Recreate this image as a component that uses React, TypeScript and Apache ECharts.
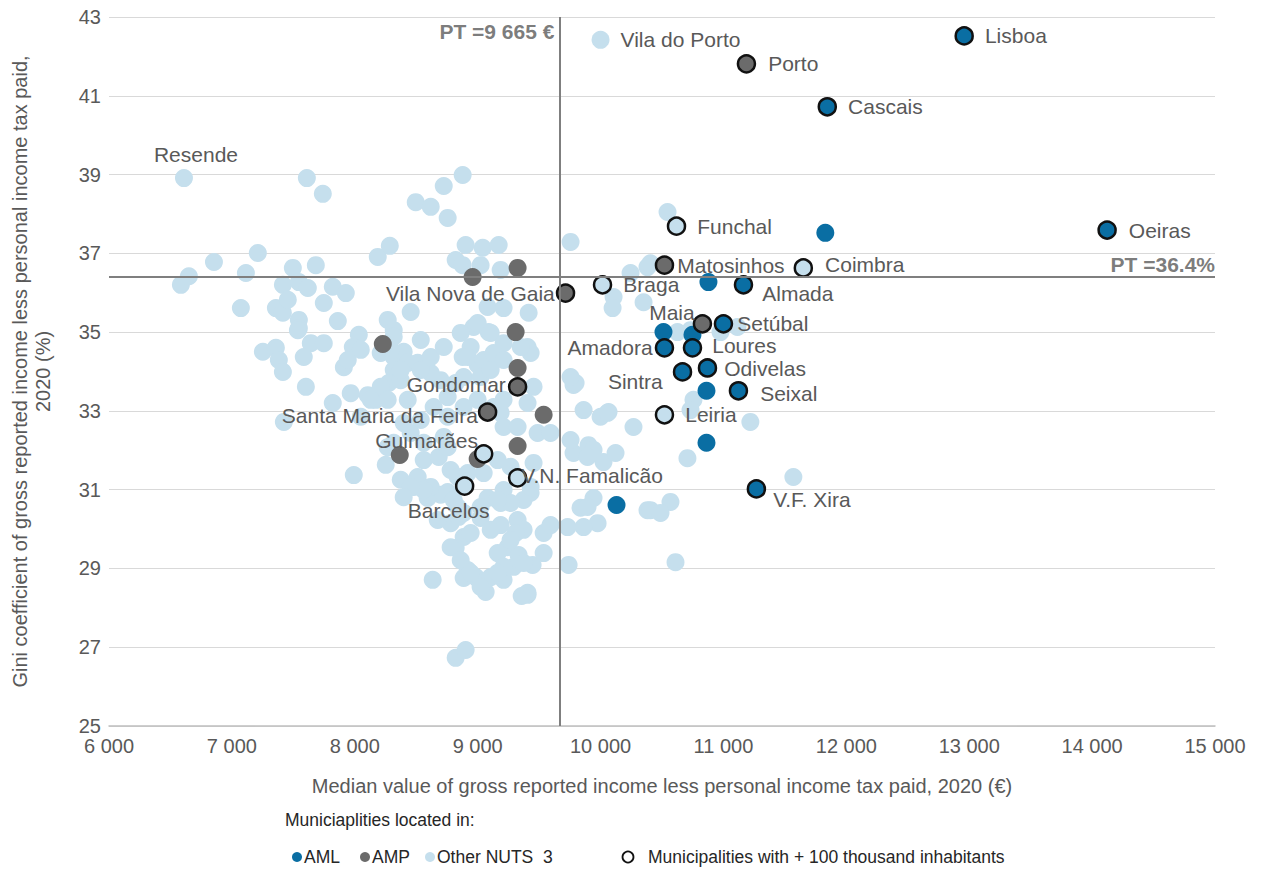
import { useEffect, useRef } from "react";
import * as echarts from "echarts";

// ---------- DATA ----------
const X_TICKS_MIN = 6000;
const X_TICKS_MAX = 15000;
const Y_MIN = 25;
const Y_MAX = 43;
const PT_MEDIAN = 9665;
const PT_GINI = 36.4;

// AML municipalities with + 100 thousand inhabitants
const AML_BIG: [string, number, number][] = [
  ["Lisboa", 12959, 42.52],
  ["Cascais", 11845, 40.72],
  ["Oeiras", 14122, 37.59],
  ["Almada", 11163, 36.2],
  ["Setúbal", 11000, 35.21],
  ["Amadora", 10520, 34.6],
  ["Loures", 10748, 34.6],
  ["Sintra", 10667, 33.99],
  ["Odivelas", 10870, 34.09],
  ["Seixal", 11122, 33.51],
  ["V.F. Xira", 11268, 31.02],
];
const AML_OTHER: [number, number][] = [
  [11829, 37.52], [10878, 36.27], [10512, 35.0], [10748, 34.93],
  [10862, 33.51], [10862, 32.19], [10130, 30.61],
];
// AMP
const AMP_BIG: [string, number, number][] = [
  ["Porto", 11187, 41.81],
  ["Matosinhos", 10520, 36.7],
  ["Maia", 10829, 35.21],
  ["Vila Nova de Gaia", 9715, 35.99],
  ["Gondomar", 9325, 33.61],
  ["Santa Maria da Feira", 9081, 32.97],
];
const AMP_OTHER: [number, number][] = [
  [8228, 34.7], [8959, 36.4], [9325, 36.63], [9309, 35.0], [9325, 34.09],
  [9537, 32.9], [9325, 32.11], [9000, 31.78], [8366, 31.88],
];
// Other NUTS 3
const OTHER_BIG: [string, number, number][] = [
  ["Funchal", 10618, 37.69],
  ["Coimbra", 11650, 36.63],
  ["Braga", 10016, 36.2],
  ["Leiria", 10520, 32.9],
  ["Guimarães", 9049, 31.91],
  ["V.N. Famalicão", 9325, 31.3],
  ["Barcelos", 8894, 31.09],
];
const OTHER_NAMED: [string, number, number][] = [
  ["Resende", 6610, 38.91],
  ["Vila do Porto", 10000, 42.42],
];
const OTHER_POINTS: [number, number][] = [
  [6585, 36.2], [6650, 36.42], [6854, 36.78], [7610, 38.91], [7740, 38.51],
  [7211, 37.01], [7114, 36.5], [7496, 36.63], [7683, 36.7], [8187, 36.91],
  [8285, 37.19], [7415, 36.2], [7545, 36.27], [7618, 36.12], [7821, 36.15],
  [7927, 35.99], [7073, 35.61], [7358, 35.61], [7415, 35.49], [7455, 35.82],
  [7748, 35.74], [7545, 35.31], [7545, 35.1], [7862, 35.28], [8268, 35.31],
  [8317, 35.05], [8033, 34.93], [7984, 34.62], [7252, 34.5], [7358, 34.6],
  [7382, 34.29], [7415, 33.99], [7642, 34.72], [7585, 34.37], [7911, 34.11],
  [7602, 33.61], [7821, 33.2], [8106, 33.4], [8171, 33.28], [8211, 34.47],
  [8317, 34.37], [8317, 34.04], [8398, 34.5], [8276, 33.71], [8374, 33.78],
  [8431, 34.22], [8878, 38.99], [8724, 38.71], [8496, 38.3], [8618, 38.18],
  [8756, 37.9], [8902, 37.21], [9041, 37.14], [9171, 37.21], [9756, 37.29],
  [8821, 36.83], [8878, 36.7], [9024, 36.7], [9187, 36.58], [10244, 36.5],
  [10382, 36.65], [10106, 35.89], [10098, 35.61], [10350, 35.76], [8455, 35.51],
  [8537, 34.8], [9081, 35.64], [9211, 35.61], [9415, 35.49], [8967, 35.13],
  [9089, 35.0], [8943, 34.62], [8878, 34.37], [9406, 34.62], [9431, 34.47],
  [9000, 34.17], [9089, 34.11], [9455, 33.61], [9780, 33.66], [10065, 32.97],
  [8821, 33.71], [8699, 33.78], [8756, 33.35], [9130, 33.1], [9187, 32.95],
  [8512, 34.22], [8618, 33.96], [10000, 32.85], [10268, 32.59], [9780, 31.93],
  [9902, 32.13], [10024, 31.7], [10122, 31.93], [8780, 31.5], [8837, 31.32],
  [8480, 31.07], [8699, 30.87], [8593, 30.79], [9211, 30.99], [9081, 30.79],
  [9187, 30.66], [9431, 30.92], [9374, 30.74], [8780, 30.15], [8846, 30.31],
  [9024, 30.28], [9187, 30.1], [9325, 30.23], [9374, 29.98], [9309, 29.9],
  [9537, 29.9], [9593, 30.1], [9732, 30.05], [9837, 30.54], [9943, 30.79],
  [9976, 30.15], [10382, 30.48], [8886, 29.8], [8821, 29.52], [9244, 29.54],
  [9333, 29.34], [9293, 29.04], [9447, 29.09], [9740, 29.09], [8634, 28.71],
  [8919, 28.96], [8886, 28.76], [8984, 28.78], [9106, 28.78], [9065, 28.4],
  [9211, 28.71], [9406, 28.33], [8821, 26.73], [8902, 26.93], [7423, 32.72],
  [7992, 31.37], [8252, 31.63], [8317, 32.19], [8268, 32.08], [8561, 31.75],
  [8683, 31.83], [8756, 32.08], [8374, 31.25], [8512, 31.32], [8618, 31.07],
  [8756, 30.94], [8805, 30.74], [8886, 30.41], [8675, 30.23], [7537, 35.05],
  [7748, 34.72], [7943, 34.29], [8049, 34.55], [8293, 34.55], [8374, 34.04],
  [8317, 34.88], [8211, 33.61], [8130, 33.28], [8268, 33.28], [8431, 33.28],
  [7967, 33.45], [8049, 32.85], [8398, 32.69], [8455, 32.44], [8561, 32.19],
  [8724, 32.34], [8537, 32.77], [8642, 33.1], [8537, 34.04], [8618, 34.37],
  [8724, 34.62], [8862, 34.98], [9000, 35.23], [9106, 34.98], [9211, 34.72],
  [8919, 34.37], [9049, 34.29], [9130, 34.47], [8886, 33.86], [9024, 33.86],
  [9106, 34.04], [9211, 34.29], [9350, 34.62], [9000, 33.28], [9211, 33.28],
  [9406, 33.2], [8756, 32.85], [8886, 33.1], [9488, 32.44], [9211, 32.59],
  [9325, 32.59], [9593, 32.44], [9756, 32.26], [9862, 33.02], [9943, 32.01],
  [9894, 31.83], [8919, 31.42], [9049, 31.42], [9163, 31.75], [9268, 31.58],
  [9455, 31.68], [9894, 30.56], [9862, 30.05], [9268, 30.66], [9431, 31.07],
  [9024, 30.56], [8837, 30.56], [9163, 30.74], [8561, 30.99], [8455, 31.07],
  [8398, 30.81], [8943, 29.9], [9106, 29.98], [9268, 29.72], [9163, 29.39],
  [9211, 29.04], [9374, 29.14], [9537, 29.39], [8780, 29.54], [8862, 29.21],
  [8943, 28.89], [9024, 28.53], [9163, 28.89], [9406, 28.38], [10545, 38.05],
  [10406, 36.75], [10626, 35.0], [10732, 35.05], [10976, 35.0], [11114, 35.13],
  [11219, 32.72], [11569, 31.32], [10707, 31.8], [10756, 33.28], [10732, 33.02],
  [10057, 32.95], [10569, 30.69], [10406, 30.48], [10488, 30.41], [9797, 33.71],
  [9756, 33.86], [10610, 29.16], [9358, 28.3],
];

// ---------- STYLE ----------
const C_AML = "#0a6ea3";
const C_AMP = "#6b6b6b";
const C_OTHER = "#c5dfed";
const TXT = "#595959";
const FONT = "'Liberation Sans', Arial, sans-serif";
const LEG_FONT = "'Liberation Sans', Arial, sans-serif";

const LABEL_LAYOUT: Record<string, any> = {
  Lisboa: { position: "right", distance: 11 },
  Cascais: { position: "right", distance: 11 },
  Oeiras: { position: "right", distance: 12 },
  Almada: { position: "right", distance: 9, offset: [0, 9] },
  "Setúbal": { position: "right", distance: 4 },
  Amadora: { position: "left", distance: 2 },
  Loures: { position: "right", distance: 10, offset: [0, -2] },
  Sintra: { position: "left", distance: 10, offset: [0, 10] },
  Odivelas: { position: "right", distance: 7, offset: [0, 1] },
  Seixal: { position: "right", distance: 12, offset: [0, 3] },
  "V.F. Xira": { position: "right", distance: 7, offset: [0, 11] },
  Porto: { position: "right", distance: 12 },
  Matosinhos: { position: "right", distance: 3 },
  Maia: { position: "left", distance: 5, offset: [7, -11] },
  "Vila Nova de Gaia": { position: "left", distance: 1 },
  Gondomar: { position: "left", distance: 2, offset: [0, -2] },
  "Santa Maria da Feira": { position: "left", distance: 0, offset: [0, 3] },
  Funchal: { position: "right", distance: 11 },
  Coimbra: { position: "right", distance: 12, offset: [0, -3] },
  Braga: { position: "right", distance: 11 },
  Leiria: { position: "right", distance: 11 },
  "Guimarães": { position: "left", distance: 0, offset: [4, -13] },
  "V.N. Famalicão": { position: "right", distance: 0, offset: [-6, -2] },
  Barcelos: { position: "bottom", distance: 5, offset: [-16, 0] },
  Resende: { position: "top", distance: 5, offset: [12, 0] },
  "Vila do Porto": { position: "right", distance: 11 },
};

const labelBase = { show: true, formatter: "{b}", color: TXT, fontSize: 21, lineHeight: 19, fontFamily: FONT };

const named = (arr: [string, number, number][]) =>
  arr.map(([name, x, y]) => ({
    name,
    value: [x, y],
    label: { ...labelBase, ...(LABEL_LAYOUT[name] || {}) },
  }));

const fmt = (v: number) => String(v).replace(/\B(?=(\d{3})+(?!\d))/g, " ");

const SZ = 18;
const SZB = 17;
const outlined = (color: string) => ({ color, borderColor: "#111", borderWidth: 2.5, opacity: 1 });

const option: any = {
  animation: false,
  backgroundColor: "#ffffff",
  textStyle: { fontFamily: FONT },
  grid: { left: 108, right: 49, top: 17, bottom: 144, containLabel: false },
  xAxis: {
    type: "value",
    min: X_TICKS_MIN,
    max: X_TICKS_MAX,
    interval: 1000,
    axisLine: { show: true, lineStyle: { color: "#bfbfbf", width: 1.5 } },
    axisTick: { show: false },
    splitLine: { show: false },
    axisLabel: { color: TXT, fontSize: 20, fontFamily: FONT, margin: 10, formatter: fmt },
    name: "Median value of gross reported income less personal income tax paid, 2020 (€)",
    nameLocation: "middle",
    nameGap: 50,
    nameTextStyle: { color: TXT, fontSize: 20, fontFamily: FONT },
  },
  yAxis: {
    type: "value",
    min: Y_MIN,
    max: Y_MAX,
    interval: 2,
    axisLine: { show: false },
    axisTick: { show: false },
    splitLine: { show: true, lineStyle: { color: "#d9d9d9", width: 1 } },
    axisLabel: { color: TXT, fontSize: 20, fontFamily: FONT, margin: 8 },
    name: "Gini coefficient of gross reported income less personal income tax paid,\n2020 (%)",
    nameLocation: "middle",
    nameGap: 55,
    nameRotate: 90,
    nameTextStyle: { color: TXT, fontSize: 20, fontFamily: FONT, lineHeight: 23, align: "center" },
  },
  series: [
    {
      type: "scatter",
      name: "refs",
      data: [],
      silent: true,
      markLine: {
        silent: true,
        symbol: "none",
        label: { show: false },
        lineStyle: { color: "#7f7f7f", width: 2, type: "solid" },
        data: [{ xAxis: PT_MEDIAN }, { yAxis: PT_GINI }],
      },
    },
    {
      type: "scatter",
      name: "Other NUTS 3",
      symbolSize: SZ,
      itemStyle: { color: C_OTHER, opacity: 1 },
      data: [...OTHER_POINTS, ...named(OTHER_NAMED)],
    },
    {
      type: "scatter",
      name: "AMP",
      symbolSize: SZ,
      itemStyle: { color: C_AMP, opacity: 1 },
      data: AMP_OTHER,
    },
    {
      type: "scatter",
      name: "AML",
      symbolSize: SZ,
      itemStyle: { color: C_AML, opacity: 1 },
      data: AML_OTHER,
    },
    {
      type: "scatter",
      name: "Other big",
      symbolSize: SZB,
      itemStyle: outlined(C_OTHER),
      data: named(OTHER_BIG),
    },
    {
      type: "scatter",
      name: "AMP big",
      symbolSize: SZB,
      itemStyle: outlined(C_AMP),
      data: named(AMP_BIG),
    },
    {
      type: "scatter",
      name: "AML big",
      symbolSize: SZB,
      itemStyle: outlined(C_AML),
      data: named(AML_BIG),
    },
    {
      type: "scatter",
      name: "annotations",
      symbolSize: 0,
      silent: true,
      data: [
        {
          value: [PT_MEDIAN, Y_MAX],
          label: {
            show: true, formatter: "PT =9 665 €", position: "left", distance: 5, offset: [0, 14],
            color: TXT, fontSize: 21, fontWeight: "bold", fontFamily: FONT,
          },
        },
        {
          value: [X_TICKS_MAX, PT_GINI],
          label: {
            show: true, formatter: "PT =36.4%", position: "left", distance: 0, offset: [0, -12],
            color: TXT, fontSize: 21, fontWeight: "bold", fontFamily: FONT,
          },
        },
      ],
    },
  ],
  graphic: [
    {
      type: "text", left: 285, top: 811,
      style: { text: "Municiaplities located in:", fill: "#262626", font: `17.5px ${LEG_FONT}` },
    },
    { type: "circle", shape: { cx: 297, cy: 857, r: 5 }, style: { fill: C_AML } },
    { type: "text", left: 304, top: 848, style: { text: "AML", fill: "#262626", font: `17.5px ${LEG_FONT}` } },
    { type: "circle", shape: { cx: 365, cy: 857, r: 5 }, style: { fill: C_AMP } },
    { type: "text", left: 372, top: 848, style: { text: "AMP", fill: "#262626", font: `17.5px ${LEG_FONT}` } },
    { type: "circle", shape: { cx: 430, cy: 857, r: 5 }, style: { fill: C_OTHER } },
    { type: "text", left: 437, top: 848, style: { text: "Other NUTS  3", fill: "#262626", font: `17.5px ${LEG_FONT}` } },
    { type: "circle", shape: { cx: 628, cy: 857, r: 5.5 }, style: { fill: "#ffffff", stroke: "#111", lineWidth: 1.8 } },
    {
      type: "text", left: 648, top: 848,
      style: { text: "Municipalities with + 100 thousand inhabitants", fill: "#262626", font: `17.5px ${LEG_FONT}` },
    },
  ],
};

export default function App() {
  const ref = useRef<HTMLDivElement>(null);
  useEffect(() => {
    const chart = echarts.init(ref.current!, null, { renderer: "svg" });
    chart.setOption(option);
    return () => chart.dispose();
  }, []);
  return (
    <div
      ref={ref}
      style={{ position: "absolute", left: 0, top: 0, width: 1264, height: 870, background: "#fff" }}
    />
  );
}
